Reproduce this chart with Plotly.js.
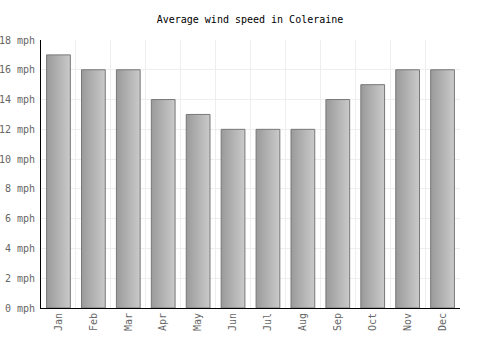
<!DOCTYPE html>
<html>
<head>
<meta charset="utf-8">
<script src="https://cdn.plot.ly/plotly-3.0.1.min.js"></script>
<style>html,body{margin:0;padding:0;background:#fff;}#chart{width:500px;height:350px;}</style>
</head>
<body>
<div id="chart"></div>
<script>
const months = ["Jan","Feb","Mar","Apr","May","Jun","Jul","Aug","Sep","Oct","Nov","Dec"];
const windSpeed = [17,16,16,14,13,12,12,12,14,15,16,16];
const yTicks = [0,2,4,6,8,10,12,14,16,18];

const font = "DejaVu Sans Mono, monospace";
const trace = {
  type: "bar",
  x: months,
  y: windSpeed,
  width: 0.68,
  marker: {color: "#b0b0b0", line: {color: "#777777", width: 1}},
  hoverinfo: "none"
};
const layout = {
  width: 500, height: 350,
  margin: {l: 41, r: 40, t: 40, b: 42},
  paper_bgcolor: "#fff", plot_bgcolor: "#fff",
  showlegend: false,
  title: {text: "Average wind speed in Coleraine", font: {family: font, size: 10, color: "#000"}, x: 0.5, xanchor: "center", y: 0.945, yanchor: "middle"},
  xaxis: {
    type: "category", tickangle: -90, tickson: "boundaries",
    showgrid: true, gridcolor: "#eeeeee", gridwidth: 1,
    showline: true, linecolor: "#000", linewidth: 1,
    ticks: "outside", ticklen: 5, tickcolor: "rgba(0,0,0,0)",
    tickfont: {family: font, size: 10, color: "#666"},
    range: [-0.5, 11.5], fixedrange: true
  },
  yaxis: {
    range: [0, 18], tickvals: yTicks, ticktext: yTicks.map(v => v + " mph"),
    showgrid: true, gridcolor: "#eeeeee", gridwidth: 1,
    showline: true, linecolor: "#000", linewidth: 1, zeroline: false,
    ticks: "outside", ticklen: 3, tickcolor: "rgba(0,0,0,0)",
    tickfont: {family: font, size: 10, color: "#666"},
    fixedrange: true
  }
};
Plotly.newPlot("chart", [trace], layout, {displayModeBar: false, staticPlot: true}).then(gd => {
  const svg = gd.querySelector("svg.main-svg");
  const ns = "http://www.w3.org/2000/svg";
  let defs = svg.querySelector("defs");
  if (!defs) { defs = document.createElementNS(ns, "defs"); svg.insertBefore(defs, svg.firstChild); }
  const g = document.createElementNS(ns, "linearGradient");
  g.setAttribute("id", "barGrad");
  g.setAttribute("x1", "0"); g.setAttribute("y1", "0"); g.setAttribute("x2", "1"); g.setAttribute("y2", "0");
  [["0%", "#9a9a9a"], ["100%", "#cacaca"]].forEach(([o, c]) => {
    const s = document.createElementNS(ns, "stop");
    s.setAttribute("offset", o); s.setAttribute("stop-color", c);
    g.appendChild(s);
  });
  defs.appendChild(g);
  gd.querySelectorAll(".bars .point path").forEach(p => { p.style.fill = "url(#barGrad)"; p.style.fillOpacity = 1; });
});
</script>
</body>
</html>
